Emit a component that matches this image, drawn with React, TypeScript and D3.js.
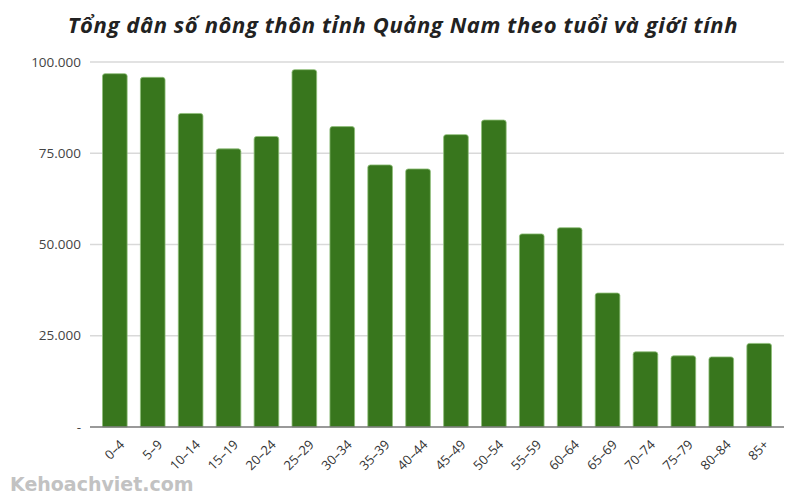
import React from "react";
import * as d3 from "d3";

const categories = ["0–4","5–9","10–14","15–19","20–24","25–29","30–34","35–39","40–44","45–49","50–54","55–59","60–64","65–69","70–74","75–79","80–84","85+"];
const values = [96800, 95800, 85900, 76200, 79600, 97900, 82300, 71800, 70700, 80100, 84100, 52900, 54600, 36700, 20600, 19500, 19200, 22900];
const yTicks = [0, 25000, 50000, 75000, 100000];
const title = "Tổng dân số nông thôn tỉnh Quảng Nam theo tuổi và giới tính";
const watermark = "Kehoachviet.com";

const W = 800, H = 500;
const M = { left: 90, right: 16, top: 62, bottom: 73 };

function fmt(v: number) {
  if (v === 0) return "-";
  return d3.format(",")(v).replace(/,/g, ".");
}

export default function App() {
  const x = d3.scaleBand<string>().domain(categories).range([M.left, W - M.right]).paddingInner(0.35).paddingOuter(0.33);
  const y = d3.scaleLinear().domain([0, 100000]).range([H - M.bottom, M.top]);
  const bw = x.bandwidth();
  const r = 2.5;
  const barPath = (cx: number, top: number, bottom: number) => {
    const x0 = cx, x1 = cx + bw;
    return `M${x0},${bottom}V${top + r}Q${x0},${top} ${x0 + r},${top}H${x1 - r}Q${x1},${top} ${x1},${top + r}V${bottom}Z`;
  };
  return (
    <svg width={W} height={H} style={{ position: "absolute", left: 0, top: 0, background: "#fff" }}>
      <text x={403} y={33} textAnchor="middle" fontFamily="'Open Sans'" fontStyle="italic" fontWeight="bold" fontSize={22} letterSpacing={0.6} fill="#222">{title}</text>
      {yTicks.map((t) => (
        <g key={t}>
          {t > 0 && <line x1={M.left} x2={W - M.right} y1={y(t)} y2={y(t)} stroke="#d9d9d9" strokeWidth={1.5} />}
          <text x={81} y={y(t)} dy="0.35em" textAnchor="end" fontFamily="'Open Sans'" fontSize={13.5} fill="#444">{fmt(t)}</text>
        </g>
      ))}
      {values.map((v, i) => (
        <path key={categories[i]} d={barPath(x(categories[i])!, y(v), y(0))} fill="#38761d" stroke="#8fbf7a" strokeWidth={0.8} />
      ))}
      <line x1={M.left} x2={W - M.right} y1={y(0)} y2={y(0)} stroke="#777" strokeWidth={1.5} />
      {categories.map((c) => {
        const cx = x(c)! + bw / 2 + 4;
        const cy = y(0) + 12;
        return (
          <text key={c} transform={`translate(${cx},${cy}) rotate(-45)`} textAnchor="end" dy="0.7em" fontFamily="'Open Sans'" fontSize={13} fill="#333">{c}</text>
        );
      })}
      <text x={10} y={491} fontFamily="'DejaVu Sans'" fontWeight="bold" fontSize={19} fill="#c2c2c2">{watermark}</text>
    </svg>
  );
}
